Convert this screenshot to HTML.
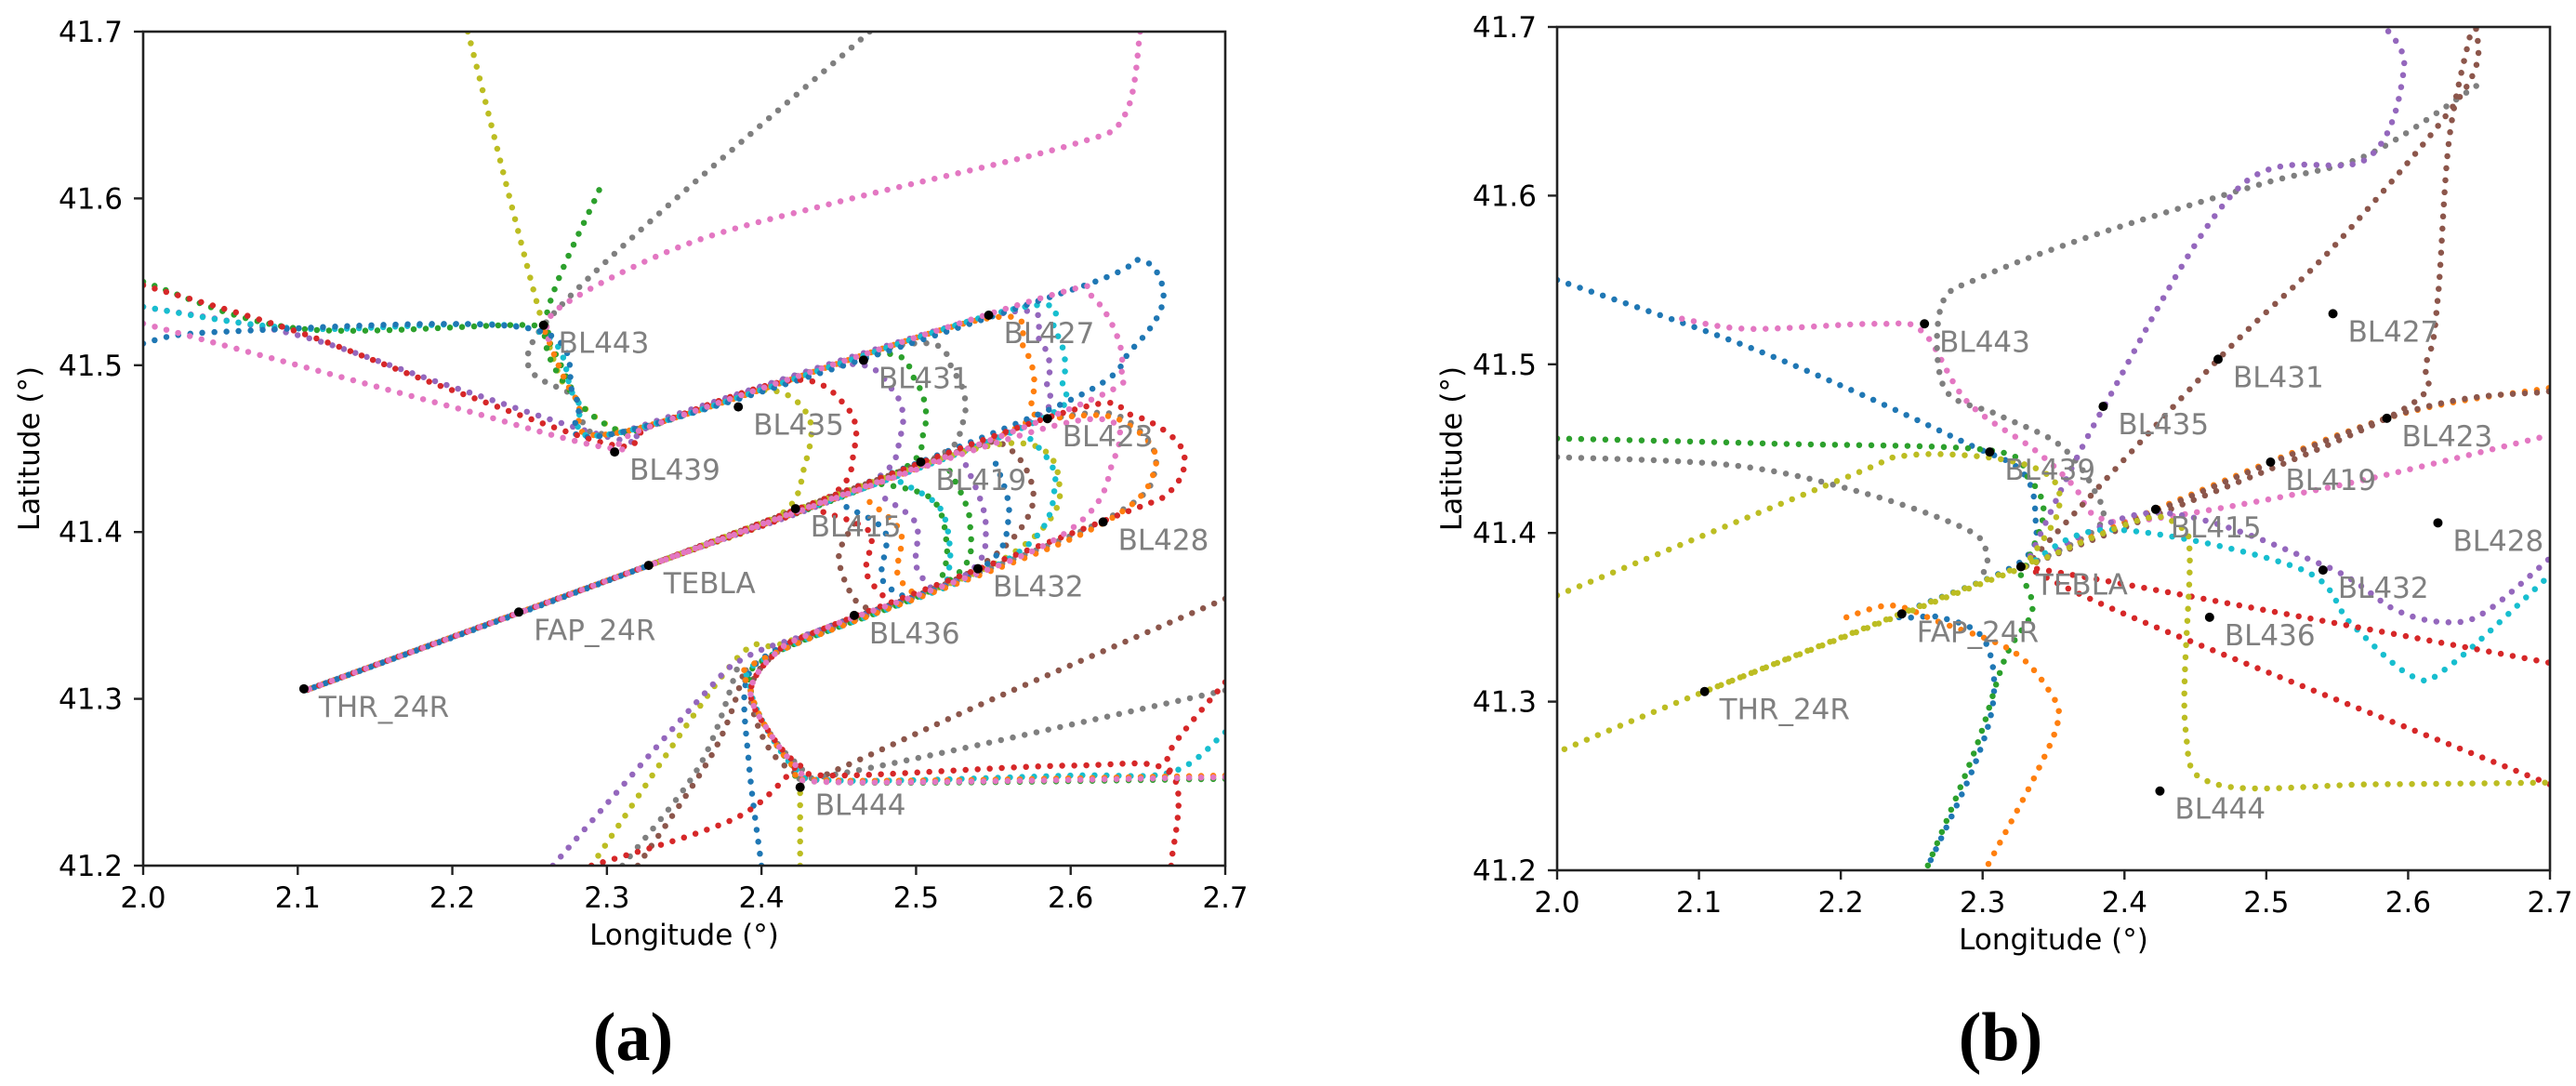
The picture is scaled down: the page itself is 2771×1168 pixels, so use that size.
<!DOCTYPE html>
<html><head><meta charset="utf-8"><style>
html,body{margin:0;padding:0;background:#fff}
svg{display:block}
text{font-family:"DejaVu Sans","Liberation Sans",sans-serif}
</style></head><body>
<svg id="fig" width="2771" height="1168" viewBox="0 0 2771 1168" xmlns="http://www.w3.org/2000/svg">
<defs>
<clipPath id="clipA"><rect x="154" y="34" width="1164" height="897"/></clipPath>
<clipPath id="clipB"><rect x="1675" y="29" width="1068" height="907"/></clipPath>
</defs>
<g id="panelA"></g>
<g id="panelB"></g>
<text x="681" y="1140" text-anchor="middle" font-size="74" font-weight="bold" style="font-family:'Liberation Serif',serif">(a)</text>
<text x="2152" y="1140" text-anchor="middle" font-size="74" font-weight="bold" style="font-family:'Liberation Serif',serif">(b)</text>
</svg>
<script>
// ---------- data ----------
const xTicks = [2.0,2.1,2.2,2.3,2.4,2.5,2.6,2.7];
const yTicks = [41.2,41.3,41.4,41.5,41.6,41.7];
const wpNames = ["BL443","BL439","BL435","BL431","BL427","BL423","BL419","BL415","TEBLA","FAP_24R","THR_24R","BL428","BL432","BL436","BL444"];
const wpLon = [2.259,2.305,2.385,2.466,2.547,2.585,2.503,2.422,2.327,2.243,2.104,2.621,2.540,2.460,2.425];
const wpLat = [41.524,41.448,41.475,41.503,41.530,41.468,41.442,41.414,41.380,41.352,41.306,41.406,41.378,41.350,41.247];

// panel (a) trajectories
const a_olive1 = [[2.21,41.70],[2.26,41.52],[2.28,41.48],[2.31,41.46],[2.33,41.464],[2.40,41.485],[2.43,41.47],[2.428,41.44],[2.41,41.409],[2.327,41.38],[2.105,41.305]];
const a_red1 = [[2.0,41.548],[2.1,41.52],[2.2,41.485],[2.305,41.452],[2.33,41.464],[2.42,41.491],[2.455,41.475],[2.46,41.45],[2.44,41.419],[2.327,41.38],[2.105,41.305]];
const a_purple1 = [[2.0,41.535],[2.1,41.518],[2.2,41.487],[2.31,41.455],[2.33,41.464],[2.45,41.50],[2.485,41.485],[2.49,41.458],[2.465,41.427],[2.327,41.38],[2.105,41.305]];
const a_green1 = [[2.295,41.605],[2.26,41.525],[2.28,41.48],[2.31,41.46],[2.33,41.464],[2.47,41.506],[2.5,41.49],[2.505,41.46],[2.48,41.432],[2.327,41.38],[2.105,41.305]];
const a_green2 = [[2.0,41.55],[2.1,41.522],[2.25,41.524],[2.262,41.515],[2.28,41.48]];
const a_gray1 = [[2.47,41.70],[2.26,41.525],[2.28,41.48],[2.31,41.46],[2.49,41.512],[2.525,41.495],[2.53,41.465],[2.5,41.439],[2.327,41.38],[2.105,41.305]];
const a_orange1 = [[2.26,41.52],[2.28,41.48],[2.31,41.46],[2.54,41.527],[2.57,41.51],[2.575,41.48],[2.55,41.456],[2.327,41.38],[2.105,41.305]];
const a_purple2 = [[2.31,41.46],[2.55,41.53],[2.58,41.515],[2.585,41.49],[2.56,41.46],[2.327,41.38]];
const a_cyan1 = [[2.0,41.535],[2.1,41.522],[2.25,41.522],[2.28,41.48],[2.31,41.46],[2.56,41.533],[2.59,41.52],[2.595,41.49],[2.57,41.463],[2.327,41.38],[2.105,41.305]];
const a_pink1 = [[2.645,41.70],[2.635,41.65],[2.6,41.632],[2.45,41.598],[2.35,41.572],[2.27,41.535],[2.262,41.515]];
const a_pink2 = [[2.0,41.525],[2.1,41.5],[2.2,41.475],[2.305,41.45],[2.33,41.464],[2.58,41.54],[2.615,41.54],[2.633,41.5],[2.6,41.474],[2.327,41.38],[2.105,41.305]];
const a_blue1 = [[2.0,41.513],[2.05,41.52],[2.25,41.522],[2.28,41.48],[2.31,41.46],[2.6,41.545],[2.645,41.563],[2.66,41.54],[2.64,41.51],[2.59,41.475],[2.327,41.38],[2.105,41.305]];
const a_brown1 = [[2.7,41.36],[2.55,41.3],[2.45,41.258],[2.43,41.252],[2.405,41.27],[2.393,41.305],[2.41,41.328],[2.44,41.342],[2.535,41.376],[2.575,41.415],[2.56,41.45],[2.52,41.446],[2.327,41.38]];
const a_olive2 = [[2.29,41.2],[2.38,41.32],[2.41,41.332],[2.44,41.342],[2.555,41.383],[2.593,41.424],[2.549,41.452],[2.327,41.38]];
const a_olive3 = [[2.425,41.2],[2.425,41.245]];
const a_pink3 = [[2.7,41.253],[2.45,41.25],[2.425,41.258],[2.405,41.28],[2.393,41.305],[2.41,41.328],[2.44,41.342],[2.585,41.393],[2.625,41.435],[2.6,41.466],[2.327,41.38]];
const a_gray2 = [[2.7,41.305],[2.45,41.255],[2.425,41.26],[2.405,41.28],[2.393,41.305],[2.41,41.328],[2.615,41.404],[2.655,41.44],[2.63,41.47],[2.58,41.467]];
const a_red2 = [[2.665,41.2],[2.665,41.255],[2.6,41.26],[2.45,41.254],[2.425,41.26],[2.405,41.28],[2.393,41.305],[2.41,41.328],[2.44,41.342],[2.625,41.408],[2.665,41.425],[2.672,41.45],[2.64,41.47],[2.59,41.47],[2.327,41.38]];
const a_red3 = [[2.7,41.31],[2.665,41.27],[2.665,41.255]];
const a_red4 = [[2.29,41.2],[2.36,41.22],[2.395,41.235],[2.425,41.262]];
const a_orange2 = [[2.7,41.254],[2.45,41.251],[2.42,41.26],[2.393,41.305],[2.41,41.328],[2.61,41.4],[2.655,41.44],[2.63,41.468],[2.585,41.468]];
const a_cyan2 = [[2.7,41.28],[2.665,41.256],[2.6,41.254],[2.45,41.251],[2.42,41.26],[2.393,41.305],[2.41,41.328],[2.56,41.384],[2.59,41.43],[2.57,41.46]];
const a_blue2 = [[2.4,41.2],[2.392,41.26],[2.39,41.31],[2.41,41.33],[2.44,41.342],[2.54,41.377],[2.56,41.41],[2.55,41.445]];
const a_purple3 = [[2.265,41.2],[2.36,41.3],[2.39,41.325],[2.44,41.342],[2.53,41.373],[2.545,41.405],[2.53,41.445]];
const a_green3 = [[2.7,41.252],[2.45,41.25],[2.42,41.26],[2.393,41.305],[2.41,41.328],[2.52,41.37],[2.535,41.405],[2.52,41.44]];
const a_brown2 = [[2.32,41.2],[2.37,41.27],[2.39,41.32]];
const a_gray3 = [[2.31,41.2],[2.36,41.26],[2.385,41.32]];
// "(" shaped arcs between approach line and southern leg
const a_arcBrown = [[2.46,41.405],[2.45,41.385],[2.46,41.36],[2.475,41.352]];
const a_arcRed = [[2.44,41.412],[2.47,41.4],[2.468,41.375],[2.485,41.356]];
const a_arcBlue = [[2.455,41.415],[2.48,41.4],[2.478,41.372],[2.495,41.36]];
const a_arcOrange = [[2.47,41.418],[2.49,41.4],[2.488,41.375],[2.5,41.362]];
const a_arcPurple = [[2.48,41.42],[2.5,41.405],[2.5,41.38],[2.51,41.366]];
const a_arcGreen = [[2.47,41.43],[2.51,41.42],[2.52,41.39],[2.515,41.368]];
const a_arcCyan = [[2.49,41.43],[2.515,41.415],[2.522,41.39],[2.52,41.37]];

// panel (b) trajectories
const b_blue1 = [[2.0,41.55],[2.12,41.515],[2.204,41.486],[2.289,41.453],[2.327,41.437],[2.337,41.412],[2.327,41.383],[2.243,41.352],[2.27,41.35],[2.3,41.338],[2.308,41.305],[2.295,41.264],[2.26,41.2]];
const b_pink1 = [[2.088,41.527],[2.135,41.521],[2.226,41.524],[2.258,41.519],[2.289,41.478],[2.337,41.449],[2.364,41.428],[2.38,41.41],[2.417,41.408],[2.55,41.428],[2.7,41.458]];
const b_gray1 = [[2.0,41.445],[2.125,41.44],[2.215,41.424],[2.289,41.402],[2.303,41.387],[2.3,41.375]];
const b_gray2 = [[2.648,41.665],[2.571,41.624],[2.497,41.607],[2.38,41.577],[2.3,41.552],[2.271,41.535],[2.273,41.486],[2.311,41.47],[2.353,41.453],[2.377,41.428],[2.382,41.404],[2.33,41.38]];
const b_green1 = [[2.0,41.456],[2.151,41.453],[2.305,41.449],[2.332,41.433],[2.343,41.412],[2.33,41.38]];
const b_green2 = [[2.327,41.375],[2.335,41.354],[2.316,41.326],[2.295,41.272],[2.26,41.2]];
const b_olive1 = [[2.0,41.363],[2.204,41.433],[2.247,41.446],[2.311,41.444],[2.348,41.433],[2.353,41.412],[2.332,41.383]];
const b_olive2 = [[2.33,41.38],[2.412,41.408],[2.438,41.404],[2.446,41.387],[2.443,41.284],[2.465,41.251],[2.576,41.251],[2.7,41.252]];
const b_olive3 = [[2.33,41.38],[2.104,41.306],[2.0,41.27]];
const b_orange1 = [[2.33,41.38],[2.422,41.414],[2.585,41.468],[2.7,41.486]];
const b_orange2 = [[2.204,41.35],[2.236,41.357],[2.27,41.347],[2.321,41.33],[2.348,41.305],[2.353,41.288],[2.337,41.256],[2.303,41.202]];
const b_brown1 = [[2.33,41.38],[2.465,41.502],[2.55,41.572],[2.64,41.663],[2.648,41.7]];
const b_brown2 = [[2.33,41.38],[2.585,41.468],[2.613,41.502],[2.621,41.54],[2.629,41.634],[2.645,41.7]];
const b_brown3 = [[2.33,41.38],[2.585,41.468],[2.7,41.484]];
const b_purple1 = [[2.33,41.38],[2.385,41.474],[2.481,41.605],[2.571,41.622],[2.597,41.675],[2.584,41.7]];
const b_purple2 = [[2.33,41.38],[2.422,41.412],[2.54,41.381],[2.592,41.354],[2.63,41.347],[2.656,41.354],[2.7,41.385]];
const b_cyan1 = [[2.33,41.38],[2.39,41.402],[2.523,41.379],[2.56,41.346],[2.603,41.315],[2.629,41.321],[2.7,41.375]];
const b_red1 = [[2.33,41.38],[2.417,41.367],[2.7,41.323]];
const b_red2 = [[2.33,41.38],[2.417,41.346],[2.7,41.251]];
const b_approach = [[2.335,41.383],[2.104,41.306]];

const C = {blue:"#1f77b4",orange:"#ff7f0e",green:"#2ca02c",red:"#d62728",purple:"#9467bd",brown:"#8c564b",pink:"#e377c2",gray:"#7f7f7f",olive:"#bcbd22",cyan:"#17becf"};

const seriesA = [
 ["arc-brown",C.brown,a_arcBrown],["arc-red",C.red,a_arcRed],["arc-blue",C.blue,a_arcBlue],["arc-orange",C.orange,a_arcOrange],
 ["arc-purple",C.purple,a_arcPurple],["arc-green",C.green,a_arcGreen],["arc-cyan",C.cyan,a_arcCyan],
 ["olive-1",C.olive,a_olive1],["gray-1",C.gray,a_gray1],["green-1",C.green,a_green1],["green-2",C.green,a_green2],
 ["purple-1",C.purple,a_purple1],["orange-1",C.orange,a_orange1],["purple-2",C.purple,a_purple2],["cyan-1",C.cyan,a_cyan1],
 ["pink-1",C.pink,a_pink1],["blue-1",C.blue,a_blue1],["red-1",C.red,a_red1],
 ["brown-1",C.brown,a_brown1],["olive-2",C.olive,a_olive2],["olive-3",C.olive,a_olive3],["gray-2",C.gray,a_gray2],
 ["brown-2",C.brown,a_brown2],["gray-3",C.gray,a_gray3],["blue-2",C.blue,a_blue2],["purple-3",C.purple,a_purple3],
 ["green-3",C.green,a_green3],["cyan-2",C.cyan,a_cyan2],["orange-2",C.orange,a_orange2],["red-2",C.red,a_red2],
 ["red-3",C.red,a_red3],["red-4",C.red,a_red4],["pink-3",C.pink,a_pink3],["pink-2",C.pink,a_pink2]
];
const seriesB = [
 ["blue-1",C.blue,b_blue1],["pink-1",C.pink,b_pink1],["gray-1",C.gray,b_gray1],["gray-2",C.gray,b_gray2],
 ["green-1",C.green,b_green1],["green-2",C.green,b_green2],["orange-2",C.orange,b_orange2],["orange-1",C.orange,b_orange1],
 ["brown-1",C.brown,b_brown1],["brown-2",C.brown,b_brown2],["brown-3",C.brown,b_brown3],["purple-1",C.purple,b_purple1],
 ["purple-2",C.purple,b_purple2],["cyan-1",C.cyan,b_cyan1],["red-1",C.red,b_red1],["red-2",C.red,b_red2],
 ["olive-2",C.olive,b_olive2],["olive-1",C.olive,b_olive1],["approach",C.olive,b_approach],["olive-3",C.olive,b_olive3]
];

// ---------- drawing ----------
const NS="http://www.w3.org/2000/svg";
function mk(tag,attrs,parent){const e=document.createElementNS(NS,tag);for(const k in attrs)e.setAttribute(k,attrs[k]);parent.appendChild(e);return e;}
function axes(x0,y0,w,h){return {x:l=>x0+(l-2.0)/0.7*w, y:v=>y0+(41.7-v)/0.5*h, x0,y0,w,h};}
function smoothPath(pts){
 if(pts.length<3){return "M"+pts.map(p=>p[0].toFixed(1)+","+p[1].toFixed(1)).join(" L");}
 let d="M"+pts[0][0].toFixed(1)+","+pts[0][1].toFixed(1);
 for(let i=0;i<pts.length-1;i++){
  const p0=pts[i-1]||pts[i],p1=pts[i],p2=pts[i+1],p3=pts[i+2]||p2;
  const c1=[p1[0]+(p2[0]-p0[0])/6,p1[1]+(p2[1]-p0[1])/6];
  const c2=[p2[0]-(p3[0]-p1[0])/6,p2[1]-(p3[1]-p1[1])/6];
  d+=" C"+c1[0].toFixed(1)+","+c1[1].toFixed(1)+" "+c2[0].toFixed(1)+","+c2[1].toFixed(1)+" "+p2[0].toFixed(1)+","+p2[1].toFixed(1);
 }
 return d;
}
function drawPanel(g,ax,clipId,series,ylabX){
 const clipG=mk("g",{"clip-path":"url(#"+clipId+")"},g);
 series.forEach(s=>{
  const pts=s[2].map(p=>[ax.x(p[0]),ax.y(p[1])]);
  const el=mk("path",{d:smoothPath(pts),fill:"none",stroke:s[1],"stroke-width":6.5,"stroke-linecap":"round","stroke-dasharray":"0 13"},clipG);
  
  
 });
 wpNames.forEach((n,i)=>{
  const cx=ax.x(wpLon[i]),cy=ax.y(wpLat[i]);
  const dot=mk("circle",{cx:cx,cy:cy,r:5,fill:"#000"},clipG);
  
  
  const t=mk("text",{x:cx+16,y:cy+30,"font-size":31,fill:"#808080"},g);
  t.textContent=n;
  
  
 });
 const frame=mk("rect",{x:ax.x0,y:ax.y0,width:ax.w,height:ax.h,fill:"none",stroke:"#222","stroke-width":2.6},g);
 
 
 xTicks.forEach(v=>{
  const x=ax.x(v);
  mk("line",{x1:x,x2:x,y1:ax.y0+ax.h,y2:ax.y0+ax.h+10,stroke:"#222","stroke-width":2.4},g);
  const t=mk("text",{x:x,y:ax.y0+ax.h+45,"font-size":31,"text-anchor":"middle",fill:"#000"},g);
  t.textContent=v.toFixed(1);
  
  
 });
 yTicks.forEach(v=>{
  const y=ax.y(v);
  mk("line",{x1:ax.x0-10,x2:ax.x0,y1:y,y2:y,stroke:"#222","stroke-width":2.4},g);
  const t=mk("text",{x:ax.x0-22,y:y+11,"font-size":31,"text-anchor":"end",fill:"#000"},g);
  t.textContent=v.toFixed(1);
  
  
 });
 const xl=mk("text",{x:ax.x0+ax.w/2,y:ax.y0+ax.h+85,"font-size":31,"text-anchor":"middle",fill:"#000"},g);
 xl.textContent="Longitude (°)";
 
 
 const cy=ax.y0+ax.h/2;
 const yl=mk("text",{x:ylabX,y:cy,"font-size":31,"text-anchor":"middle",fill:"#000",transform:"rotate(-90 "+ylabX+" "+cy+")"},g);
 yl.textContent="Latitude (°)";
 
 
}
drawPanel(document.getElementById("panelA"),axes(154,34,1164,897),"clipA",seriesA,42);
drawPanel(document.getElementById("panelB"),axes(1675,29,1068,907),"clipB",seriesB,1572);
</script>
</body></html>
